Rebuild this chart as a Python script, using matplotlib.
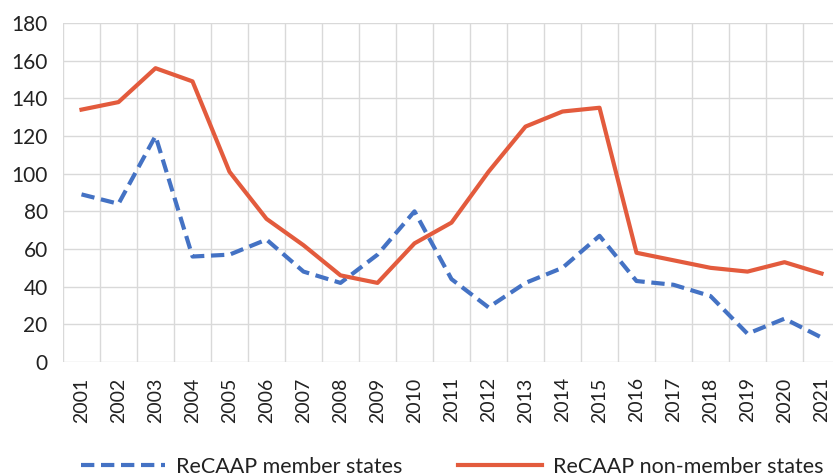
import matplotlib.pyplot as plt

years = [str(y) for y in range(2001, 2022)]
member = [89, 84, 120, 56, 57, 65, 48, 42, 57, 80, 44, 29, 42, 50, 67, 43, 41, 35, 15, 23, 13]
non_member = [134, 138, 156, 149, 101, 76, 62, 46, 42, 63, 74, 101, 125, 133, 135, 58, 54, 50, 48, 53, 47]

plt.rcParams['font.family'] = ['Lato', 'DejaVu Sans']

fig = plt.figure(figsize=(8.33, 4.76), dpi=100)
# plot area runs slightly past the right edge, like the source image
ax = fig.add_axes([63 / 833, 1 - 362 / 476, 777 / 833, 339 / 476])

x = list(range(len(years)))
ax.plot(x, member, color='#4472C4', lw=3, ls=(0, (3.2, 1.6)), label='ReCAAP member states')
ax.plot(x, non_member, color='#E35B3D', lw=3, label='ReCAAP non-member states')

ax.set_xlim(-0.5, len(years) - 0.5)
ax.set_ylim(0, 180)
ax.set_yticks(range(0, 181, 20))
ax.set_xticks(x)
ax.set_xticklabels(years, rotation=90, fontsize=14, color='#222222')
ax.tick_params(axis='y', labelsize=15, colors='#222222', length=0, pad=11)
ax.tick_params(axis='x', length=0, pad=11)

# vertical gridlines sit between categories
ax.set_xticks([i - 0.5 for i in range(len(years) + 1)], minor=True)
ax.tick_params(axis='x', which='minor', length=0)
ax.grid(True, which='minor', axis='x', color='#d9d9d9', lw=1)
ax.grid(True, which='major', axis='y', color='#d9d9d9', lw=1)
ax.set_axisbelow(True)
for s in ax.spines.values():
    s.set_visible(False)

fig.legend(loc='center', bbox_to_anchor=(452 / 833, 1 - 467 / 476), ncol=2, frameon=False,
           fontsize=15.5, handlelength=3.9, handletextpad=0.5, columnspacing=2.6,
           labelcolor='#222222')

fig.savefig('out.png', dpi=100)
